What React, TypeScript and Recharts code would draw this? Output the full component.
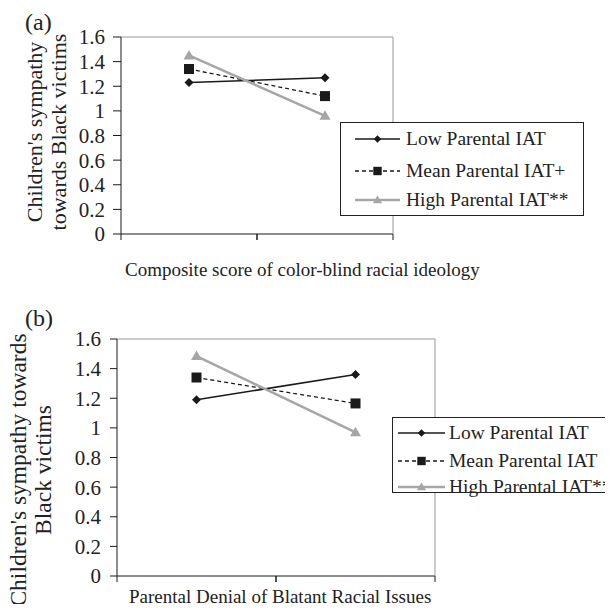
import React from "react";
import { LineChart, Line, XAxis, YAxis, Legend } from "recharts";

const FONT = "'Liberation Serif', 'Times New Roman', serif";

// shared
const levels = ["Low", "High"];
const yTicks = [0, 0.2, 0.4, 0.6, 0.8, 1, 1.2, 1.4, 1.6];

// panel (a)
const aLow = [1.23, 1.27];
const aMean = [1.34, 1.12];
const aHigh = [1.45, 0.96];
const aNames = ["Low Parental IAT", "Mean Parental IAT+", "High Parental IAT**"];

// panel (b)
const bLow = [1.19, 1.36];
const bMean = [1.34, 1.165];
const bHigh = [1.485, 0.97];
const bNames = ["Low Parental IAT", "Mean Parental IAT", "High Parental IAT**"];

const keys = ["low", "mean", "high"];
const styles = [
  { stroke: "#1a1a1a", width: 1.5, dash: undefined as string | undefined },
  { stroke: "#1a1a1a", width: 1.3, dash: "4 3" },
  { stroke: "#a6a6a6", width: 2.5, dash: undefined as string | undefined },
];

function toRows(low: number[], mean: number[], high: number[]) {
  return levels.map((level, i) => ({ level, low: low[i], mean: mean[i], high: high[i] }));
}

const dataA = toRows(aLow, aMean, aHigh);
const dataB = toRows(bLow, bMean, bHigh);

function marker(kind: number, cx: number, cy: number, s: number, key?: string) {
  if (kind === 0) {
    return (
      <polygon key={key} points={`${cx},${cy - s} ${cx + s},${cy} ${cx},${cy + s} ${cx - s},${cy}`} fill="#1a1a1a" />
    );
  }
  if (kind === 1) {
    return <rect key={key} x={cx - s} y={cy - s} width={2 * s} height={2 * s} fill="#1a1a1a" />;
  }
  return (
    <polygon
      key={key}
      points={`${cx},${cy - s * 1.1} ${cx + s * 1.1},${cy + s * 0.8} ${cx - s * 1.1},${cy + s * 0.8}`}
      fill="#a6a6a6"
    />
  );
}

const dotSizes = [4.5, 5, 5];

type LegendCfg = { w: number; h: number; rows: number[]; lineX: number; lineW: number; gap: number };

function makeLegend(names: string[], cfg: LegendCfg) {
  return () => (
    <div
      style={{
        border: "1px solid #222",
        background: "#fff",
        width: cfg.w,
        height: cfg.h,
        boxSizing: "border-box",
        position: "relative",
        fontFamily: FONT,
        fontSize: 19.5,
        color: "#222",
      }}
    >
      {names.map((n, i) => (
        <div
          key={n}
          style={{
            position: "absolute",
            left: cfg.lineX - 1,
            top: cfg.rows[i] - 13,
            height: 26,
            display: "flex",
            alignItems: "center",
            whiteSpace: "nowrap",
          }}
        >
          <svg width={cfg.lineW} height={26} style={{ display: "block" }}>
            <line
              x1={0}
              x2={cfg.lineW}
              y1={13}
              y2={13}
              stroke={styles[i].stroke}
              strokeWidth={styles[i].width}
              strokeDasharray={styles[i].dash}
            />
            {marker(i, cfg.lineW / 2, 13, i === 0 ? 3.8 : 4.2)}
          </svg>
          <span style={{ marginLeft: cfg.gap }}>{n}</span>
        </div>
      ))}
    </div>
  );
}

type Titles = {
  tag: string;
  tagY: number;
  yLines: string[];
  yLineX: number[];
  yCenter: number;
  ySize: number;
  xLabel: string;
  xLabelX: number;
  xLabelY: number;
};

function titles(t: Titles) {
  return () => (
    <g>
      <text x={25} y={t.tagY} fontSize={24} fill="#222" fontFamily={FONT}>
        {t.tag}
      </text>
      {t.yLines.map((l, i) => (
        <text
          key={i}
          x={t.yLineX[i]}
          y={t.yCenter}
          transform={`rotate(-90 ${t.yLineX[i]} ${t.yCenter})`}
          textAnchor="middle"
          dominantBaseline="central"
          fontSize={t.ySize}
          fill="#222"
          fontFamily={FONT}
        >
          {l}
        </text>
      ))}
      <text x={t.xLabelX} y={t.xLabelY} fontSize={19} fill="#222" fontFamily={FONT}>
        {t.xLabel}
      </text>
    </g>
  );
}

// tick marks sit between the categories (Excel style), not under them
function edgeTicks(half: number) {
  return (props: any) => {
    const { x, y, index } = props;
    return (
      <g key={`t-${index}`}>
        <line x1={x - half} x2={x - half} y1={y} y2={y + 6} stroke="#1a1a1a" />
        <line x1={x + half} x2={x + half} y1={y} y2={y + 6} stroke="#1a1a1a" />
      </g>
    );
  };
}

type PanelProps = {
  data: ReturnType<typeof toRows>;
  names: string[];
  height: number;
  margin: { top: number; right: number; bottom: number; left: number };
  yWidth: number;
  yTickSize: number;
  yTickMargin: number;
  titles: Titles;
  legendPos: { left: number; top: number };
  legendCfg: LegendCfg;
};

function Panel(p: PanelProps) {
  const tickStyle = { fontSize: 21, fill: "#222", fontFamily: FONT };
  const plotW = 613 - p.margin.left - p.yWidth - p.margin.right - 1;
  const half = plotW / levels.length / 2;
  return (
    <LineChart width={613} height={p.height} data={p.data} margin={p.margin}>
      <XAxis
        xAxisId="cat"
        dataKey="level"
        scale="band"
        interval={0}
        height={30}
        tickSize={0}
        tickMargin={0}
        tickLine={false}
        tick={edgeTicks(half)}
        axisLine={{ stroke: "#1a1a1a" }}
      />
      <XAxis
        xAxisId="top"
        orientation="top"
        type="number"
        domain={[0, 2]}
        allowDataOverflow
        height={1}
        tickLine={false}
        tickFormatter={() => ""}
        axisLine={{ stroke: "#999" }}
      />
      <YAxis
        yAxisId="left"
        domain={[0, 1.6]}
        ticks={yTicks}
        interval={0}
        width={p.yWidth}
        tickSize={p.yTickSize}
        tickMargin={p.yTickMargin}
        tick={tickStyle}
        axisLine={{ stroke: "#1a1a1a" }}
        tickLine={{ stroke: "#1a1a1a" }}
        label={{ content: titles(p.titles) }}
      />
      <YAxis
        yAxisId="right"
        orientation="right"
        domain={[0, 1.6]}
        width={1}
        tickLine={false}
        tickFormatter={() => ""}
        axisLine={{ stroke: "#999" }}
      />
      {keys.map((k, i) => (
        <Line
          key={k}
          xAxisId="cat"
          yAxisId="left"
          dataKey={k}
          name={p.names[i]}
          stroke={styles[i].stroke}
          strokeWidth={styles[i].width}
          strokeDasharray={styles[i].dash}
          isAnimationActive={false}
          dot={(d: any) => marker(i, d.cx, d.cy, dotSizes[i], `${k}-${d.index}`)}
          activeDot={false}
        />
      ))}
      <Legend
        layout="horizontal"
        verticalAlign="middle"
        align="center"
        content={makeLegend(p.names, p.legendCfg)}
        wrapperStyle={{ left: p.legendPos.left, top: p.legendPos.top, width: p.legendCfg.w, height: p.legendCfg.h }}
      />
    </LineChart>
  );
}

export default function App() {
  return (
    <div style={{ position: "relative", width: 613, height: 612, margin: -8, overflow: "hidden", background: "#fff" }}>
      <Panel
        data={dataA}
        names={aNames}
        height={300}
        margin={{ top: 36, right: 219, bottom: 36, left: 0 }}
        yWidth={121}
        yTickSize={8}
        yTickMargin={8}
        titles={{
          tag: "(a)",
          tagY: 30,
          yLines: ["Children's sympathy", "towards Black victims"],
          yLineX: [34, 58],
          yCenter: 132,
          ySize: 22,
          xLabel: "Composite score of color-blind racial ideology",
          xLabelX: 125,
          xLabelY: 276,
        }}
        legendPos={{ left: 340, top: 122 }}
        legendCfg={{ w: 244, h: 94, rows: [16, 48, 77], lineX: 15, lineW: 45, gap: 6 }}
      />
      <Panel
        data={dataB}
        names={bNames}
        height={312}
        margin={{ top: 38, right: 177, bottom: 6, left: 0 }}
        yWidth={117}
        yTickSize={7}
        yTickMargin={9}
        titles={{
          tag: "(b)",
          tagY: 26,
          yLines: ["Children's sympathy towards", "Black victims"],
          yLineX: [18, 43],
          yCenter: 170,
          ySize: 23.5,
          xLabel: "Parental Denial of Blatant Racial Issues",
          xLabelX: 129,
          xLabelY: 303,
        }}
        legendPos={{ left: 392, top: 117 }}
        legendCfg={{ w: 240, h: 76, rows: [15, 43, 69], lineX: 6, lineW: 47, gap: 4 }}
      />
    </div>
  );
}
